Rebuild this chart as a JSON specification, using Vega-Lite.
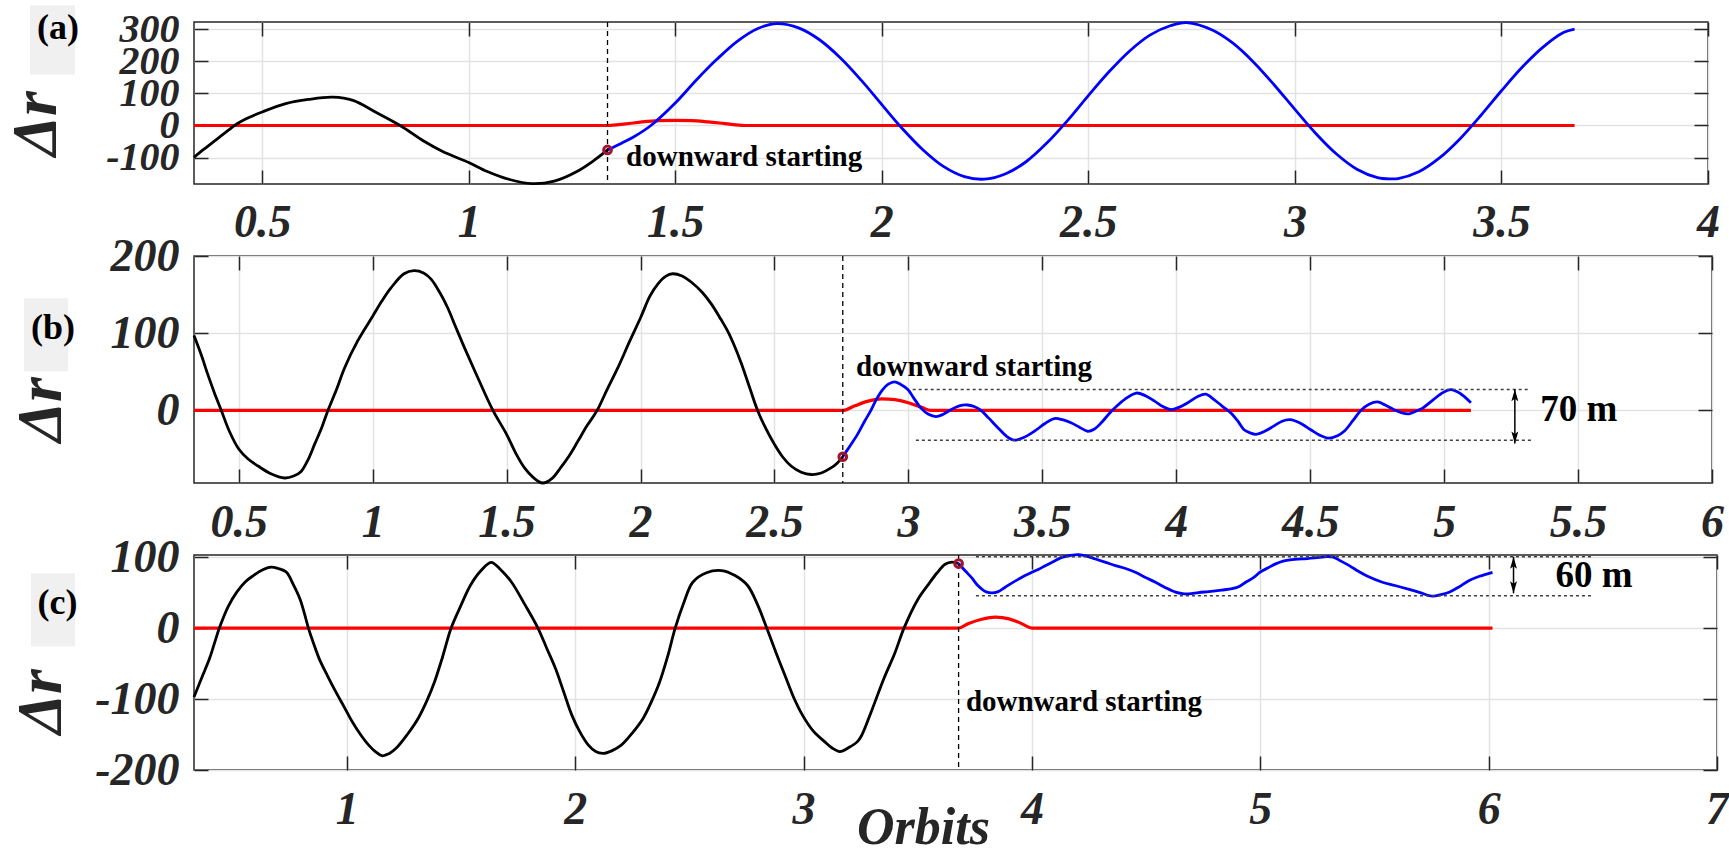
{
  "$schema": "https://vega.github.io/schema/vega-lite/v6.json",
  "background": "white",
  "padding": {"left": 3, "top": 4, "right": 0, "bottom": 0},
  "bounds": "flush",
  "spacing": 72,
  "resolve": {"scale": {"x": "independent", "y": "independent"}},
  "config": {
    "view": {"stroke": "#262626", "strokeWidth": 1.5},
    "axis": {
      "labelFont": "Liberation Serif", "labelFontWeight": "bold", "labelFontStyle": "italic",
      "labelFontSize": 46, "labelColor": "#262626", "labelFlush": false, "labelOverlap": false,
      "tickColor": "#262626", "tickSize": -14, "tickWidth": 1.5, "domain": false,
      "gridColor": "#e3e3e3", "gridWidth": 1.5,
      "titleFont": "Liberation Serif", "titleFontWeight": "bold", "titleFontStyle": "italic",
      "titleFontSize": 64, "titleColor": "#262626", "titleAlign": "center", "titleBaseline": "middle"
    }
  },
  "datasets": {
    "A": [
      {"s":"k","x":0.335,"y":-99},{"s":"k","x":0.36,"y":-73},{"s":"k","x":0.39,"y":-43},{"s":"k","x":0.42,"y":-13},
      {"s":"k","x":0.433,"y":0},{"s":"k","x":0.46,"y":20},{"s":"k","x":0.5,"y":42},{"s":"k","x":0.557,"y":68},
      {"s":"k","x":0.612,"y":81},{"s":"k","x":0.671,"y":88},{"s":"k","x":0.72,"y":78},{"s":"k","x":0.774,"y":42},
      {"s":"k","x":0.834,"y":0},{"s":"k","x":0.893,"y":-50},{"s":"k","x":0.937,"y":-81},{"s":"k","x":1.0,"y":-115},
      {"s":"k","x":1.045,"y":-143},{"s":"k","x":1.099,"y":-168},{"s":"k","x":1.153,"y":-181},{"s":"k","x":1.207,"y":-173},
      {"s":"k","x":1.262,"y":-143},{"s":"k","x":1.305,"y":-107},{"s":"k","x":1.336,"y":-76},
      {"s":"b","x":1.336,"y":-76},{"s":"b","x":1.37,"y":-55},{"s":"b","x":1.4,"y":-35},{"s":"b","x":1.441,"y":0},
      {"s":"b","x":1.5,"y":70},{"s":"b","x":1.55,"y":140},{"s":"b","x":1.6,"y":205},{"s":"b","x":1.65,"y":262},
      {"s":"b","x":1.7,"y":302},{"s":"b","x":1.746,"y":317},{"s":"b","x":1.8,"y":303},{"s":"b","x":1.85,"y":266},
      {"s":"b","x":1.9,"y":210},{"s":"b","x":1.95,"y":141},{"s":"b","x":2.0,"y":65},{"s":"b","x":2.05,"y":-10},
      {"s":"b","x":2.1,"y":-76},{"s":"b","x":2.15,"y":-128},{"s":"b","x":2.2,"y":-159},{"s":"b","x":2.248,"y":-167},
      {"s":"b","x":2.3,"y":-150},{"s":"b","x":2.35,"y":-112},{"s":"b","x":2.4,"y":-54},{"s":"b","x":2.45,"y":16},
      {"s":"b","x":2.5,"y":93},{"s":"b","x":2.55,"y":167},{"s":"b","x":2.6,"y":232},{"s":"b","x":2.65,"y":282},
      {"s":"b","x":2.7,"y":311},{"s":"b","x":2.738,"y":320},{"s":"b","x":2.8,"y":297},{"s":"b","x":2.85,"y":256},
      {"s":"b","x":2.9,"y":197},{"s":"b","x":2.95,"y":126},{"s":"b","x":3.0,"y":50},{"s":"b","x":3.05,"y":-24},
      {"s":"b","x":3.1,"y":-88},{"s":"b","x":3.15,"y":-136},{"s":"b","x":3.2,"y":-162},{"s":"b","x":3.232,"y":-166},
      {"s":"b","x":3.25,"y":-165},{"s":"b","x":3.3,"y":-144},{"s":"b","x":3.35,"y":-101},{"s":"b","x":3.4,"y":-41},
      {"s":"b","x":3.45,"y":31},{"s":"b","x":3.5,"y":108},{"s":"b","x":3.55,"y":181},{"s":"b","x":3.6,"y":243},
      {"s":"b","x":3.65,"y":289},{"s":"b","x":3.677,"y":300},
      {"s":"r","x":0.335,"y":0},{"s":"r","x":1.336,"y":0},{"s":"r","x":1.38,"y":5},{"s":"r","x":1.42,"y":11},
      {"s":"r","x":1.46,"y":15},{"s":"r","x":1.5,"y":16},{"s":"r","x":1.54,"y":15},{"s":"r","x":1.58,"y":11},
      {"s":"r","x":1.62,"y":6},{"s":"r","x":1.668,"y":0},{"s":"r","x":3.677,"y":0}
    ],
    "B": [
      {"s":"k","x":0.333,"y":97},{"s":"k","x":0.36,"y":72},{"s":"k","x":0.385,"y":46},{"s":"k","x":0.41,"y":22},
      {"s":"k","x":0.435,"y":0},{"s":"k","x":0.465,"y":-27},{"s":"k","x":0.5,"y":-50},{"s":"k","x":0.535,"y":-63},
      {"s":"k","x":0.572,"y":-72},{"s":"k","x":0.62,"y":-82},{"s":"k","x":0.671,"y":-87.5},{"s":"k","x":0.705,"y":-85},
      {"s":"k","x":0.733,"y":-79},{"s":"k","x":0.76,"y":-63},{"s":"k","x":0.783,"y":-44},{"s":"k","x":0.81,"y":-22},
      {"s":"k","x":0.833,"y":0},{"s":"k","x":0.865,"y":27},{"s":"k","x":0.895,"y":55},{"s":"k","x":0.944,"y":90},
      {"s":"k","x":1.0,"y":122},{"s":"k","x":1.035,"y":142},{"s":"k","x":1.069,"y":159},{"s":"k","x":1.117,"y":177},
      {"s":"k","x":1.154,"y":181},{"s":"k","x":1.19,"y":178},{"s":"k","x":1.218,"y":170},{"s":"k","x":1.25,"y":153},
      {"s":"k","x":1.28,"y":133},{"s":"k","x":1.31,"y":108},{"s":"k","x":1.343,"y":81},{"s":"k","x":1.393,"y":42},
      {"s":"k","x":1.449,"y":0},{"s":"k","x":1.5,"y":-31},{"s":"k","x":1.535,"y":-56},{"s":"k","x":1.567,"y":-74.5},
      {"s":"k","x":1.6,"y":-87},{"s":"k","x":1.635,"y":-94},{"s":"k","x":1.67,"y":-88},{"s":"k","x":1.702,"y":-74},
      {"s":"k","x":1.735,"y":-58},{"s":"k","x":1.766,"y":-40},{"s":"k","x":1.8,"y":-20},{"s":"k","x":1.838,"y":0},
      {"s":"k","x":1.875,"y":27},{"s":"k","x":1.915,"y":55},{"s":"k","x":1.96,"y":90},{"s":"k","x":2.0,"y":120},
      {"s":"k","x":2.035,"y":148},{"s":"k","x":2.065,"y":164},{"s":"k","x":2.095,"y":174},{"s":"k","x":2.12,"y":177},
      {"s":"k","x":2.155,"y":174},{"s":"k","x":2.19,"y":166},{"s":"k","x":2.23,"y":153},{"s":"k","x":2.264,"y":138},
      {"s":"k","x":2.3,"y":118},{"s":"k","x":2.325,"y":103},{"s":"k","x":2.35,"y":84},{"s":"k","x":2.375,"y":62},
      {"s":"k","x":2.405,"y":32},{"s":"k","x":2.437,"y":0},{"s":"k","x":2.47,"y":-25},{"s":"k","x":2.5,"y":-44},
      {"s":"k","x":2.53,"y":-60},{"s":"k","x":2.562,"y":-72},{"s":"k","x":2.6,"y":-80},{"s":"k","x":2.637,"y":-83},
      {"s":"k","x":2.675,"y":-81},{"s":"k","x":2.711,"y":-74.5},{"s":"k","x":2.735,"y":-68},{"s":"k","x":2.755,"y":-60},
      {"s":"b","x":2.755,"y":-60},{"s":"b","x":2.78,"y":-47},{"s":"b","x":2.81,"y":-31},{"s":"b","x":2.835,"y":-15},
      {"s":"b","x":2.86,"y":0},{"s":"b","x":2.88,"y":14},{"s":"b","x":2.904,"y":27},{"s":"b","x":2.925,"y":34},
      {"s":"b","x":2.948,"y":37},{"s":"b","x":2.97,"y":34},{"s":"b","x":2.998,"y":27},{"s":"b","x":3.02,"y":16},
      {"s":"b","x":3.047,"y":3},{"s":"b","x":3.075,"y":-5},{"s":"b","x":3.103,"y":-8},{"s":"b","x":3.13,"y":-5},
      {"s":"b","x":3.159,"y":1},{"s":"b","x":3.19,"y":6},{"s":"b","x":3.221,"y":7},{"s":"b","x":3.245,"y":5},
      {"s":"b","x":3.271,"y":0},{"s":"b","x":3.3,"y":-10},{"s":"b","x":3.333,"y":-22},{"s":"b","x":3.365,"y":-33},
      {"s":"b","x":3.395,"y":-38.5},{"s":"b","x":3.43,"y":-35},{"s":"b","x":3.47,"y":-27},{"s":"b","x":3.51,"y":-17},
      {"s":"b","x":3.545,"y":-10.5},{"s":"b","x":3.575,"y":-12},{"s":"b","x":3.607,"y":-16},{"s":"b","x":3.64,"y":-22},
      {"s":"b","x":3.669,"y":-27},{"s":"b","x":3.695,"y":-24},{"s":"b","x":3.72,"y":-16},{"s":"b","x":3.745,"y":-6},
      {"s":"b","x":3.77,"y":3},{"s":"b","x":3.81,"y":15},{"s":"b","x":3.851,"y":22.5},{"s":"b","x":3.885,"y":19},
      {"s":"b","x":3.919,"y":12},{"s":"b","x":3.95,"y":5},{"s":"b","x":3.981,"y":1},{"s":"b","x":4.01,"y":4},
      {"s":"b","x":4.043,"y":10},{"s":"b","x":4.08,"y":18},{"s":"b","x":4.11,"y":21},{"s":"b","x":4.141,"y":14},
      {"s":"b","x":4.17,"y":6},{"s":"b","x":4.203,"y":-3},{"s":"b","x":4.23,"y":-14},{"s":"b","x":4.253,"y":-25},
      {"s":"b","x":4.275,"y":-29},{"s":"b","x":4.297,"y":-31},{"s":"b","x":4.33,"y":-27},{"s":"b","x":4.365,"y":-20},
      {"s":"b","x":4.395,"y":-14},{"s":"b","x":4.425,"y":-12},{"s":"b","x":4.46,"y":-16},{"s":"b","x":4.502,"y":-25},
      {"s":"b","x":4.535,"y":-32},{"s":"b","x":4.571,"y":-36},{"s":"b","x":4.6,"y":-33},{"s":"b","x":4.627,"y":-27},
      {"s":"b","x":4.66,"y":-13},{"s":"b","x":4.689,"y":0},{"s":"b","x":4.72,"y":8},{"s":"b","x":4.751,"y":11},
      {"s":"b","x":4.78,"y":7},{"s":"b","x":4.813,"y":1},{"s":"b","x":4.84,"y":-3},{"s":"b","x":4.869,"y":-4.5},
      {"s":"b","x":4.895,"y":-1},{"s":"b","x":4.92,"y":3},{"s":"b","x":4.96,"y":14},{"s":"b","x":4.99,"y":22},
      {"s":"b","x":5.025,"y":27},{"s":"b","x":5.06,"y":22},{"s":"b","x":5.1,"y":10},
      {"s":"r","x":0.333,"y":0},{"s":"r","x":2.755,"y":0},{"s":"r","x":2.8,"y":6},{"s":"r","x":2.85,"y":12},
      {"s":"r","x":2.9,"y":15},{"s":"r","x":2.95,"y":14},{"s":"r","x":3.0,"y":10},{"s":"r","x":3.05,"y":4},
      {"s":"r","x":3.084,"y":0},{"s":"r","x":5.1,"y":0}
    ],
    "C": [
      {"s":"k","x":0.331,"y":-97},{"s":"k","x":0.365,"y":-70},{"s":"k","x":0.399,"y":-43},{"s":"k","x":0.42,"y":-22},
      {"s":"k","x":0.442,"y":0},{"s":"k","x":0.48,"y":30},{"s":"k","x":0.519,"y":51},{"s":"k","x":0.555,"y":65},
      {"s":"k","x":0.591,"y":74},{"s":"k","x":0.63,"y":82},{"s":"k","x":0.668,"y":86},{"s":"k","x":0.7,"y":84},
      {"s":"k","x":0.735,"y":79},{"s":"k","x":0.765,"y":62},{"s":"k","x":0.795,"y":41},{"s":"k","x":0.815,"y":20},
      {"s":"k","x":0.832,"y":0},{"s":"k","x":0.855,"y":-22},{"s":"k","x":0.879,"y":-43},{"s":"k","x":0.915,"y":-67},
      {"s":"k","x":0.952,"y":-90},{"s":"k","x":0.99,"y":-112},{"s":"k","x":1.024,"y":-132},{"s":"k","x":1.06,"y":-150},
      {"s":"k","x":1.096,"y":-165},{"s":"k","x":1.125,"y":-174},{"s":"k","x":1.156,"y":-180},{"s":"k","x":1.185,"y":-177},
      {"s":"k","x":1.216,"y":-169.5},{"s":"k","x":1.265,"y":-150},{"s":"k","x":1.313,"y":-127},{"s":"k","x":1.35,"y":-103},
      {"s":"k","x":1.384,"y":-76},{"s":"k","x":1.42,"y":-40},{"s":"k","x":1.457,"y":0},{"s":"k","x":1.5,"y":32},
      {"s":"k","x":1.541,"y":60},{"s":"k","x":1.585,"y":80},{"s":"k","x":1.632,"y":92.7},{"s":"k","x":1.675,"y":82},
      {"s":"k","x":1.721,"y":65},{"s":"k","x":1.78,"y":33},{"s":"k","x":1.837,"y":0},{"s":"k","x":1.875,"y":-28},
      {"s":"k","x":1.914,"y":-57},{"s":"k","x":1.95,"y":-90},{"s":"k","x":1.986,"y":-123},{"s":"k","x":2.02,"y":-146},
      {"s":"k","x":2.058,"y":-165},{"s":"k","x":2.09,"y":-174},{"s":"k","x":2.123,"y":-176.5},{"s":"k","x":2.16,"y":-173},
      {"s":"k","x":2.202,"y":-165},{"s":"k","x":2.25,"y":-148},{"s":"k","x":2.298,"y":-127},{"s":"k","x":2.335,"y":-103},
      {"s":"k","x":2.37,"y":-76},{"s":"k","x":2.405,"y":-40},{"s":"k","x":2.438,"y":0},{"s":"k","x":2.475,"y":35},
      {"s":"k","x":2.515,"y":64.6},{"s":"k","x":2.575,"y":78},{"s":"k","x":2.642,"y":81},{"s":"k","x":2.7,"y":74},
      {"s":"k","x":2.755,"y":60},{"s":"k","x":2.8,"y":32},{"s":"k","x":2.839,"y":0},{"s":"k","x":2.88,"y":-35},
      {"s":"k","x":2.924,"y":-71},{"s":"k","x":2.96,"y":-100},{"s":"k","x":2.996,"y":-123},{"s":"k","x":3.045,"y":-146},
      {"s":"k","x":3.092,"y":-160},{"s":"k","x":3.125,"y":-169},{"s":"k","x":3.159,"y":-174},{"s":"k","x":3.2,"y":-168},
      {"s":"k","x":3.236,"y":-160},{"s":"k","x":3.255,"y":-151},{"s":"k","x":3.3,"y":-115},{"s":"k","x":3.352,"y":-71},
      {"s":"k","x":3.4,"y":-35},{"s":"k","x":3.44,"y":0},{"s":"k","x":3.5,"y":40},{"s":"k","x":3.548,"y":62},
      {"s":"k","x":3.585,"y":78},{"s":"k","x":3.62,"y":90},{"s":"k","x":3.65,"y":93},{"s":"k","x":3.679,"y":91},
      {"s":"b","x":3.679,"y":91},{"s":"b","x":3.71,"y":80},{"s":"b","x":3.737,"y":70.7},{"s":"b","x":3.76,"y":61},
      {"s":"b","x":3.781,"y":55},{"s":"b","x":3.8,"y":51},{"s":"b","x":3.825,"y":49.6},{"s":"b","x":3.85,"y":51},
      {"s":"b","x":3.883,"y":57.6},{"s":"b","x":3.91,"y":63},{"s":"b","x":3.942,"y":69},{"s":"b","x":3.97,"y":74},
      {"s":"b","x":4.0,"y":78.6},{"s":"b","x":4.03,"y":83},{"s":"b","x":4.059,"y":88},{"s":"b","x":4.095,"y":94},
      {"s":"b","x":4.132,"y":99.7},{"s":"b","x":4.17,"y":102.5},{"s":"b","x":4.205,"y":103.5},{"s":"b","x":4.24,"y":101.5},
      {"s":"b","x":4.278,"y":97.4},{"s":"b","x":4.32,"y":93},{"s":"b","x":4.366,"y":88},{"s":"b","x":4.41,"y":84},
      {"s":"b","x":4.453,"y":78.6},{"s":"b","x":4.5,"y":71},{"s":"b","x":4.541,"y":64.6},{"s":"b","x":4.585,"y":57},
      {"s":"b","x":4.629,"y":50.6},{"s":"b","x":4.66,"y":48.5},{"s":"b","x":4.687,"y":48.2},{"s":"b","x":4.73,"y":50},
      {"s":"b","x":4.775,"y":51.5},{"s":"b","x":4.83,"y":53.5},{"s":"b","x":4.877,"y":55.5},{"s":"b","x":4.91,"y":59},
      {"s":"b","x":4.936,"y":64.6},{"s":"b","x":4.97,"y":71},{"s":"b","x":5.0,"y":79},{"s":"b","x":5.035,"y":85},
      {"s":"b","x":5.067,"y":90.5},{"s":"b","x":5.1,"y":94.5},{"s":"b","x":5.14,"y":96.5},{"s":"b","x":5.184,"y":97.4},
      {"s":"b","x":5.24,"y":99},{"s":"b","x":5.293,"y":100.7},{"s":"b","x":5.32,"y":100},{"s":"b","x":5.35,"y":95},
      {"s":"b","x":5.39,"y":88},{"s":"b","x":5.43,"y":80},{"s":"b","x":5.47,"y":73},{"s":"b","x":5.535,"y":64.6},
      {"s":"b","x":5.59,"y":60},{"s":"b","x":5.652,"y":54.5},{"s":"b","x":5.7,"y":50},{"s":"b","x":5.754,"y":45},
      {"s":"b","x":5.79,"y":47},{"s":"b","x":5.827,"y":50.6},{"s":"b","x":5.87,"y":58},{"s":"b","x":5.915,"y":67},
      {"s":"b","x":5.96,"y":73},{"s":"b","x":6.017,"y":78.6},
      {"s":"r","x":0.331,"y":0},{"s":"r","x":3.679,"y":0},{"s":"r","x":3.72,"y":6},{"s":"r","x":3.78,"y":12.5},
      {"s":"r","x":3.84,"y":15.5},{"s":"r","x":3.9,"y":13},{"s":"r","x":3.95,"y":7},{"s":"r","x":4.0,"y":0},
      {"s":"r","x":6.017,"y":0}
    ]
  },
  "vconcat": [
    {
      "width": 1514, "height": 162,
      "resolve": {"axis": {"x": "independent", "y": "independent"}},
      "layer": [
        {
          "data": {"values": [{"x1": -0.062, "x2": 0.047, "y1": 159, "y2": 374}]},
          "mark": {"type": "rect", "color": "#f0f0f0"},
          "encoding": {
            "x": {"field": "x1", "type": "quantitative", "scale": {"domain": [0.335, 4], "nice": false, "zero": false},
                  "axis": {"orient": "bottom", "values": [0.5,1,1.5,2,2.5,3,3.5,4], "title": null, "grid": true, "labelPadding": 30, "labelExpr": "'' + datum.value"}},
            "x2": {"field": "x2"},
            "y": {"field": "y1", "type": "quantitative", "scale": {"domain": [-182, 322], "nice": false, "zero": false},
                  "axis": {"orient": "left", "values": [-100,0,100,200,300], "title": "Δr", "titleX": -158, "titleY": 101, "labelFontSize": 40, "labelPadding": 29, "grid": true, "labelExpr": "'' + datum.value"}},
            "y2": {"field": "y2"}
          }
        },
        {
          "data": {"name": "A"}, "transform": [{"filter": "datum.s === 'r'"}],
          "mark": {"type": "line", "color": "#ff0000", "strokeWidth": 3.2, "interpolate": "monotone"},
          "encoding": {
            "x": {"field": "x", "type": "quantitative", "axis": {"orient": "top", "values": [0.5,1,1.5,2,2.5,3,3.5,4], "labels": false, "grid": false, "title": null}},
            "y": {"field": "y", "type": "quantitative", "axis": {"orient": "right", "values": [-100,0,100,200,300], "labels": false, "grid": false, "title": null}}
          }
        },
        {
          "data": {"name": "A"}, "transform": [{"filter": "datum.s === 'k'"}],
          "mark": {"type": "line", "color": "#000000", "strokeWidth": 2.8, "interpolate": "catmull-rom"},
          "encoding": {"x": {"field": "x", "type": "quantitative", "axis": null}, "y": {"field": "y", "type": "quantitative", "axis": null}}
        },
        {
          "data": {"name": "A"}, "transform": [{"filter": "datum.s === 'b'"}],
          "mark": {"type": "line", "color": "#0000ff", "strokeWidth": 2.8, "interpolate": "catmull-rom"},
          "encoding": {"x": {"field": "x", "type": "quantitative", "axis": null}, "y": {"field": "y", "type": "quantitative", "axis": null}}
        },
        {
          "data": {"values": [{"x": 1.336}]},
          "mark": {"type": "rule", "color": "#000000", "strokeWidth": 1.3, "strokeDash": [5, 4]},
          "encoding": {"x": {"field": "x", "type": "quantitative", "axis": null}}
        },
        {
          "data": {"values": [{"x": 1.336, "y": -76}]},
          "mark": {"type": "point", "shape": "circle", "filled": false, "color": "#A2142F", "strokeWidth": 3, "size": 60, "opacity": 1},
          "encoding": {"x": {"field": "x", "type": "quantitative", "axis": null}, "y": {"field": "y", "type": "quantitative", "axis": null}}
        },
        {
          "data": {"values": [{"x": 1.381, "y": -127, "t": "downward starting"}]},
          "mark": {"type": "text", "align": "left", "baseline": "alphabetic", "font": "Liberation Serif", "fontWeight": "bold", "fontSize": 29, "color": "#000000"},
          "encoding": {"x": {"field": "x", "type": "quantitative", "axis": null}, "y": {"field": "y", "type": "quantitative", "axis": null}, "text": {"field": "t"}}
        },
        {
          "data": {"values": [{"x": 0.0058, "y": 304, "t": "(a)"}]},
          "mark": {"type": "text", "align": "center", "baseline": "middle", "font": "Liberation Serif", "fontWeight": "bold", "fontSize": 36, "color": "#000000"},
          "encoding": {"x": {"field": "x", "type": "quantitative", "axis": null}, "y": {"field": "y", "type": "quantitative", "axis": null}, "text": {"field": "t"}}
        }
      ]
    },
    {
      "width": 1518, "height": 227,
      "resolve": {"axis": {"x": "independent", "y": "independent"}},
      "layer": [
        {
          "data": {"values": [{"x1": -0.302, "x2": -0.137, "y1": 50.7, "y2": 145.2}]},
          "mark": {"type": "rect", "color": "#f0f0f0"},
          "encoding": {
            "x": {"field": "x1", "type": "quantitative", "scale": {"domain": [0.333, 6], "nice": false, "zero": false},
                  "axis": {"orient": "bottom", "values": [0.5,1,1.5,2,2.5,3,3.5,4,4.5,5,5.5,6], "title": null, "grid": true, "labelPadding": 31, "labelExpr": "'' + datum.value"}},
            "x2": {"field": "x2"},
            "y": {"field": "y1", "type": "quantitative", "scale": {"domain": [-94, 200], "nice": false, "zero": false},
                  "axis": {"orient": "left", "values": [0,100,200], "title": "Δr", "titleX": -153, "titleY": 153, "labelPadding": 29, "grid": true, "labelExpr": "'' + datum.value"}},
            "y2": {"field": "y2"}
          }
        },
        {
          "data": {"name": "B"}, "transform": [{"filter": "datum.s === 'r'"}],
          "mark": {"type": "line", "color": "#ff0000", "strokeWidth": 3.2, "interpolate": "monotone"},
          "encoding": {
            "x": {"field": "x", "type": "quantitative", "axis": {"orient": "top", "values": [0.5,1,1.5,2,2.5,3,3.5,4,4.5,5,5.5,6], "labels": false, "grid": false, "title": null}},
            "y": {"field": "y", "type": "quantitative", "axis": {"orient": "right", "values": [0,100,200], "labels": false, "grid": false, "title": null}}
          }
        },
        {
          "data": {"name": "B"}, "transform": [{"filter": "datum.s === 'k'"}],
          "mark": {"type": "line", "color": "#000000", "strokeWidth": 2.8, "interpolate": "catmull-rom"},
          "encoding": {"x": {"field": "x", "type": "quantitative", "axis": null}, "y": {"field": "y", "type": "quantitative", "axis": null}}
        },
        {
          "data": {"name": "B"}, "transform": [{"filter": "datum.s === 'b'"}],
          "mark": {"type": "line", "color": "#0000ff", "strokeWidth": 2.8, "interpolate": "catmull-rom"},
          "encoding": {"x": {"field": "x", "type": "quantitative", "axis": null}, "y": {"field": "y", "type": "quantitative", "axis": null}}
        },
        {
          "data": {"values": [{"x": 2.755}]},
          "mark": {"type": "rule", "color": "#000000", "strokeWidth": 1.3, "strokeDash": [5, 4]},
          "encoding": {"x": {"field": "x", "type": "quantitative", "axis": null}}
        },
        {
          "data": {"values": [{"x": 3.016, "x2": 5.323, "y": 27}, {"x": 3.028, "x2": 5.335, "y": -38.5}]},
          "mark": {"type": "rule", "color": "#404040", "strokeWidth": 1.5, "strokeDash": [3, 3]},
          "encoding": {"x": {"field": "x", "type": "quantitative", "axis": null}, "x2": {"field": "x2"}, "y": {"field": "y", "type": "quantitative", "axis": null}}
        },
        {
          "data": {"values": [{"x": 5.264, "y": 27.5, "y2": -43}]},
          "mark": {"type": "rule", "color": "#000000", "strokeWidth": 1.5},
          "encoding": {"x": {"field": "x", "type": "quantitative", "axis": null}, "y": {"field": "y", "type": "quantitative", "axis": null}, "y2": {"field": "y2"}}
        },
        {
          "data": {"values": [{"x": 5.264, "y": 27.5, "dir": "up"}, {"x": 5.264, "y": -43, "dir": "down"}]},
          "mark": {"type": "point", "filled": true, "color": "#000000", "size": 300, "opacity": 1},
          "encoding": {
            "x": {"field": "x", "type": "quantitative", "axis": null}, "y": {"field": "y", "type": "quantitative", "axis": null},
            "shape": {"field": "dir", "type": "nominal", "legend": null, "scale": {"domain": ["up", "down"], "range": ["M0,0L0.4,1.4L0,1.1L-0.4,1.4Z", "M0,0L0.4,-1.4L0,-1.1L-0.4,-1.4Z"]}}
          }
        },
        {
          "data": {"values": [{"x": 2.755, "y": -60}]},
          "mark": {"type": "point", "shape": "circle", "filled": false, "color": "#A2142F", "strokeWidth": 3, "size": 60, "opacity": 1},
          "encoding": {"x": {"field": "x", "type": "quantitative", "axis": null}, "y": {"field": "y", "type": "quantitative", "axis": null}}
        },
        {
          "data": {"values": [{"x": 2.804, "y": 45.1, "t": "downward starting"}]},
          "mark": {"type": "text", "align": "left", "baseline": "alphabetic", "font": "Liberation Serif", "fontWeight": "bold", "fontSize": 29, "color": "#000000"},
          "encoding": {"x": {"field": "x", "type": "quantitative", "axis": null}, "y": {"field": "y", "type": "quantitative", "axis": null}, "text": {"field": "t"}}
        },
        {
          "data": {"values": [{"x": 5.503, "y": 0, "t": "70 m"}]},
          "mark": {"type": "text", "align": "center", "baseline": "middle", "font": "Liberation Serif", "fontWeight": "bold", "fontSize": 37, "color": "#000000"},
          "encoding": {"x": {"field": "x", "type": "quantitative", "axis": null}, "y": {"field": "y", "type": "quantitative", "axis": null}, "text": {"field": "t"}}
        },
        {
          "data": {"values": [{"x": -0.193, "y": 106.4, "t": "(b)"}]},
          "mark": {"type": "text", "align": "center", "baseline": "middle", "font": "Liberation Serif", "fontWeight": "bold", "fontSize": 36, "color": "#000000"},
          "encoding": {"x": {"field": "x", "type": "quantitative", "axis": null}, "y": {"field": "y", "type": "quantitative", "axis": null}, "text": {"field": "t"}}
        }
      ]
    },
    {
      "width": 1523, "height": 215,
      "resolve": {"axis": {"x": "independent", "y": "independent"}},
      "layer": [
        {
          "data": {"values": [{"x1": -0.383, "x2": -0.19, "y1": -25.7, "y2": 77.2}]},
          "mark": {"type": "rect", "color": "#f0f0f0"},
          "encoding": {
            "x": {"field": "x1", "type": "quantitative", "scale": {"domain": [0.331, 7], "nice": false, "zero": false},
                  "axis": {"orient": "bottom", "values": [1,2,3,4,5,6,7], "title": "Orbits", "titleX": 729, "titleY": 73, "titleAngle": 0, "titleBaseline": "alphabetic", "titleFontSize": 52, "grid": true, "labelPadding": 31, "labelExpr": "'' + datum.value"}},
            "x2": {"field": "x2"},
            "y": {"field": "y1", "type": "quantitative", "scale": {"domain": [-200, 103], "nice": false, "zero": false},
                  "axis": {"orient": "left", "values": [-200,-100,0,100], "title": "Δr", "titleX": -153, "titleY": 146, "labelPadding": 29, "grid": true, "labelExpr": "'' + datum.value"}},
            "y2": {"field": "y2"}
          }
        },
        {
          "data": {"name": "C"}, "transform": [{"filter": "datum.s === 'r'"}],
          "mark": {"type": "line", "color": "#ff0000", "strokeWidth": 3.2, "interpolate": "monotone"},
          "encoding": {
            "x": {"field": "x", "type": "quantitative", "axis": {"orient": "top", "values": [1,2,3,4,5,6,7], "labels": false, "grid": false, "title": null}},
            "y": {"field": "y", "type": "quantitative", "axis": {"orient": "right", "values": [-200,-100,0,100], "labels": false, "grid": false, "title": null}}
          }
        },
        {
          "data": {"name": "C"}, "transform": [{"filter": "datum.s === 'k'"}],
          "mark": {"type": "line", "color": "#000000", "strokeWidth": 2.8, "interpolate": "catmull-rom"},
          "encoding": {"x": {"field": "x", "type": "quantitative", "axis": null}, "y": {"field": "y", "type": "quantitative", "axis": null}}
        },
        {
          "data": {"name": "C"}, "transform": [{"filter": "datum.s === 'b'"}],
          "mark": {"type": "line", "color": "#0000ff", "strokeWidth": 2.8, "interpolate": "catmull-rom"},
          "encoding": {"x": {"field": "x", "type": "quantitative", "axis": null}, "y": {"field": "y", "type": "quantitative", "axis": null}}
        },
        {
          "data": {"values": [{"x": 3.679}]},
          "mark": {"type": "rule", "color": "#000000", "strokeWidth": 1.3, "strokeDash": [5, 4]},
          "encoding": {"x": {"field": "x", "type": "quantitative", "axis": null}}
        },
        {
          "data": {"values": [{"x": 3.755, "x2": 6.455, "y": 100.7}, {"x": 3.755, "x2": 6.455, "y": 45.4}]},
          "mark": {"type": "rule", "color": "#404040", "strokeWidth": 1.5, "strokeDash": [3, 3]},
          "encoding": {"x": {"field": "x", "type": "quantitative", "axis": null}, "x2": {"field": "x2"}, "y": {"field": "y", "type": "quantitative", "axis": null}}
        },
        {
          "data": {"values": [{"x": 6.109, "y": 100.7, "y2": 49}]},
          "mark": {"type": "rule", "color": "#000000", "strokeWidth": 1.5},
          "encoding": {"x": {"field": "x", "type": "quantitative", "axis": null}, "y": {"field": "y", "type": "quantitative", "axis": null}, "y2": {"field": "y2"}}
        },
        {
          "data": {"values": [{"x": 6.109, "y": 100.7, "dir": "up"}, {"x": 6.109, "y": 49, "dir": "down"}]},
          "mark": {"type": "point", "filled": true, "color": "#000000", "size": 300, "opacity": 1},
          "encoding": {
            "x": {"field": "x", "type": "quantitative", "axis": null}, "y": {"field": "y", "type": "quantitative", "axis": null},
            "shape": {"field": "dir", "type": "nominal", "legend": null, "scale": {"domain": ["up", "down"], "range": ["M0,0L0.4,1.4L0,1.1L-0.4,1.4Z", "M0,0L0.4,-1.4L0,-1.1L-0.4,-1.4Z"]}}
          }
        },
        {
          "data": {"values": [{"x": 3.679, "y": 91}]},
          "mark": {"type": "point", "shape": "circle", "filled": false, "color": "#A2142F", "strokeWidth": 3, "size": 60, "opacity": 1},
          "encoding": {"x": {"field": "x", "type": "quantitative", "axis": null}, "y": {"field": "y", "type": "quantitative", "axis": null}}
        },
        {
          "data": {"values": [{"x": 3.711, "y": -117.3, "t": "downward starting"}]},
          "mark": {"type": "text", "align": "left", "baseline": "alphabetic", "font": "Liberation Serif", "fontWeight": "bold", "fontSize": 29, "color": "#000000"},
          "encoding": {"x": {"field": "x", "type": "quantitative", "axis": null}, "y": {"field": "y", "type": "quantitative", "axis": null}, "text": {"field": "t"}}
        },
        {
          "data": {"values": [{"x": 6.461, "y": 73, "t": "60 m"}]},
          "mark": {"type": "text", "align": "center", "baseline": "middle", "font": "Liberation Serif", "fontWeight": "bold", "fontSize": 37, "color": "#000000"},
          "encoding": {"x": {"field": "x", "type": "quantitative", "axis": null}, "y": {"field": "y", "type": "quantitative", "axis": null}, "text": {"field": "t"}}
        },
        {
          "data": {"values": [{"x": -0.267, "y": 35.6, "t": "(c)"}]},
          "mark": {"type": "text", "align": "center", "baseline": "middle", "font": "Liberation Serif", "fontWeight": "bold", "fontSize": 36, "color": "#000000"},
          "encoding": {"x": {"field": "x", "type": "quantitative", "axis": null}, "y": {"field": "y", "type": "quantitative", "axis": null}, "text": {"field": "t"}}
        }
      ]
    }
  ]
}
